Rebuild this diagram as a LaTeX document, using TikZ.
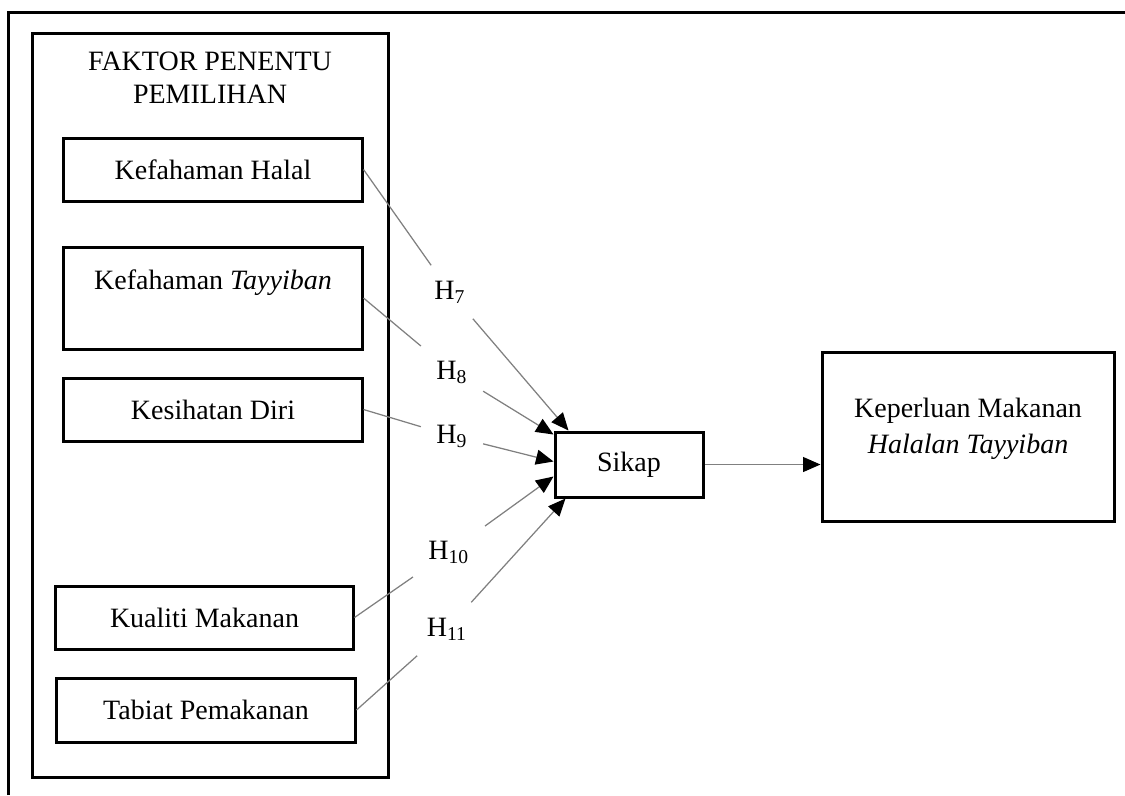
\documentclass[tikz,border=0pt]{standalone}
\usepackage{fontspec}
\setmainfont{Liberation Serif}
\usetikzlibrary{arrows.meta,calc}

\begin{document}
\begin{tikzpicture}[x=0.4pt,y=-0.4pt,
	font=\fontsize{11.2}{14.5}\selectfont,
	outerline/.style={line width=1.2pt},
	factorbox/.style={draw, line width=1.2pt, minimum width=119.2pt, minimum height=25.2pt, inner sep=0pt},
	hyp/.style={inner sep=6pt},
	link/.style={gray, line width=0.5pt},
	linkarrow/.style={gray, line width=0.5pt, -{Triangle[length=7pt,width=6pt,color=black]}}]

	\useasboundingbox (0,0) rectangle (1125,795);

	%outer frame (only its top and left edge show)
	\draw[outerline] (8,795) -- (8,12) -- (1125,12);

	%group of the determining factors
	\node[draw, line width=1.2pt, minimum width=142pt, minimum height=297.6pt] (faktor) at (210.5,405) {};
	\node[align=center] (judul) at (210,78) {FAKTOR PENENTU\\[-1.3pt]PEMILIHAN};

	\node[factorbox] (halal) at (213,169.5) {Kefahaman Halal};
	\node[factorbox, minimum height=40.8pt, align=center] (tayyiban) at (213,298) {Kefahaman \textit{Tayyiban}\\ \mbox{}};
	\node[factorbox] (kesihatan) at (213,409.5) {Kesihatan Diri};
	\node[factorbox, minimum width=118.8pt] (kualiti) at (204.5,617.5) {Kualiti Makanan};
	\node[factorbox, minimum height=25.6pt] (tabiat) at (206,710) {Tabiat Pemakanan};

	%attitude and the outcome
	\node[factorbox, minimum width=59.2pt, minimum height=26pt] (sikap) at (629,464.5) {Sikap};
	\node[factorbox, minimum width=116.8pt, minimum height=67.6pt, align=center] (keperluan) at (968,436.5) {Keperluan Makanan\\\textit{Halalan Tayyiban}\\[-6pt]\mbox{}};

	%hypotheses H7 - H11
	\node[hyp] (h7) at (450,292) {H\textsubscript{7}};
	\node[hyp] (h8) at (452,372) {H\textsubscript{8}};
	\node[hyp] (h9) at (452,436) {H\textsubscript{9}};
	\node[hyp] (h10) at (449,552) {H\textsubscript{10}};
	\node[hyp] (h11) at (447,629) {H\textsubscript{11}};

	\coordinate (s7) at ($(sikap.north west)+(15,0)$);
	\coordinate (s8) at ($(sikap.north west)+(0,4)$);
	\coordinate (s9) at ($(sikap.west)+(0,-3)$);
	\coordinate (s10) at ($(sikap.west)+(0,12)$);
	\coordinate (s11) at ($(sikap.south west)+(12,0)$);

	\draw[link] (halal.east) -- (h7);
	\draw[linkarrow] (h7) -- (s7);
	\draw[link] (tayyiban.east) -- (h8);
	\draw[linkarrow] (h8) -- (s8);
	\draw[link] (kesihatan.east) -- (h9);
	\draw[linkarrow] (h9) -- (s9);
	\draw[link] (kualiti.east) -- (h10);
	\draw[linkarrow] (h10) -- (s10);
	\draw[link] (tabiat.east) -- (h11);
	\draw[linkarrow] (h11) -- (s11);

	\draw[linkarrow] (sikap.east) -- (sikap.east -| keperluan.west);
\end{tikzpicture}
\end{document}
